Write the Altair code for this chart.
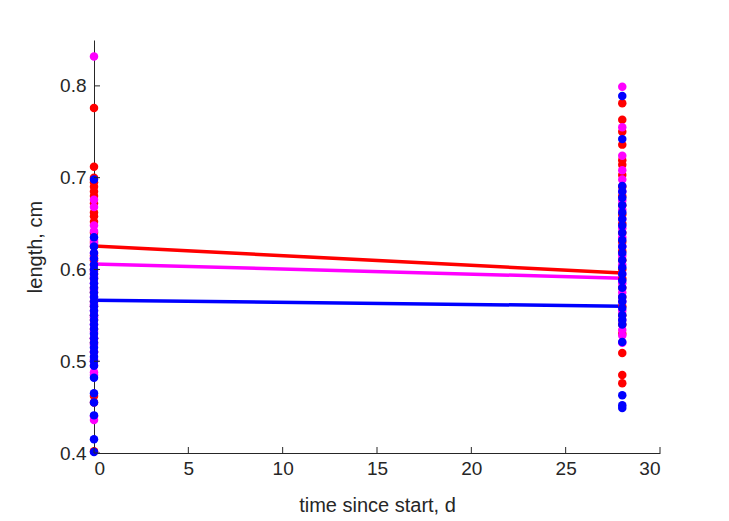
import altair as alt
import pandas as pd

# ---- data ----
red_t0 = [0.776, 0.712, 0.700, 0.695, 0.690, 0.685, 0.680, 0.672, 0.662, 0.658, 0.652, 0.640,
          0.630, 0.625, 0.615, 0.610, 0.600, 0.595, 0.590, 0.580, 0.575, 0.565, 0.560, 0.550,
          0.545, 0.535, 0.525, 0.520, 0.510, 0.500, 0.462, 0.455, 0.402]
mag_t0 = [0.832, 0.676, 0.668, 0.648, 0.642, 0.632, 0.628, 0.618, 0.612, 0.605, 0.598, 0.592,
          0.585, 0.578, 0.570, 0.562, 0.555, 0.548, 0.540, 0.532, 0.525, 0.518, 0.510, 0.502,
          0.495, 0.488, 0.485, 0.440, 0.436]
blu_t0 = [0.698, 0.635, 0.625, 0.618, 0.612, 0.605, 0.600, 0.595, 0.590, 0.585, 0.580, 0.575,
          0.570, 0.565, 0.560, 0.555, 0.550, 0.545, 0.540, 0.535, 0.530, 0.525, 0.520, 0.515,
          0.510, 0.505, 0.500, 0.495, 0.482, 0.465, 0.455, 0.441, 0.415, 0.401]
red_t28 = [0.781, 0.763, 0.750, 0.736, 0.719, 0.714, 0.703, 0.690, 0.680, 0.670, 0.660, 0.650,
           0.640, 0.630, 0.620, 0.610, 0.600, 0.590, 0.580, 0.570, 0.560, 0.550, 0.540, 0.530,
           0.509, 0.485, 0.476]
mag_t28 = [0.799, 0.755, 0.724, 0.708, 0.698, 0.685, 0.675, 0.665, 0.655, 0.645, 0.635, 0.625,
           0.615, 0.605, 0.595, 0.585, 0.575, 0.565, 0.555, 0.545, 0.534, 0.528, 0.520]
blu_t28 = [0.789, 0.742, 0.691, 0.685, 0.678, 0.670, 0.662, 0.655, 0.648, 0.640, 0.632, 0.625,
           0.618, 0.610, 0.602, 0.595, 0.588, 0.580, 0.570, 0.565, 0.558, 0.550, 0.545, 0.540,
           0.521, 0.463, 0.452, 0.449]

groups = ["red", "magenta", "blue"]
colors = ["#FF0000", "#FF00FF", "#0000FF"]
times = [0, 28]
line_start = [0.6256, 0.6060, 0.5665]
line_end = [0.5960, 0.5905, 0.5600]

x_ticks = [0, 5, 10, 15, 20, 25, 30]
y_ticks = [0.4, 0.5, 0.6, 0.7, 0.8]

# ---- tables ----
rows = []
for g, t0, t28 in zip(groups, [red_t0, mag_t0, blu_t0], [red_t28, mag_t28, blu_t28]):
    for v in t0:
        rows.append({"group": g, "t": times[0], "len": v})
    for v in t28:
        rows.append({"group": g, "t": times[1], "len": v})
pts = pd.DataFrame(rows)
pts["order"] = range(len(pts))

lrows = []
for g, a, b in zip(groups, line_start, line_end):
    lrows.append({"group": g, "t": times[0], "len": a})
    lrows.append({"group": g, "t": times[1], "len": b})
lines_df = pd.DataFrame(lrows)

FONT = "Liberation Sans"
INK = "#262626"
W, H = 566, 413

xs = alt.Scale(domain=[0, 30], nice=False, zero=False)
ys = alt.Scale(domain=[0.4, 0.85], nice=False, zero=False)
cs = alt.Scale(domain=groups, range=colors)

xaxis = alt.Axis(values=x_ticks, ticks=False, domainColor=INK, domainWidth=1,
                 labelColor=INK, labelFont=FONT, labelFontSize=19, labelPadding=6,
                 title="time since start, d", titleFont=FONT, titleFontSize=20,
                 titleFontWeight="normal", titleColor=INK, titlePadding=17, grid=False)
yaxis = alt.Axis(values=y_ticks, ticks=False, domainColor=INK, domainWidth=1,
                 labelColor=INK, labelFont=FONT, labelFontSize=19, labelPadding=8,
                 format=".1f",
                 title="length, cm", titleFont=FONT, titleFontSize=20,
                 titleFontWeight="normal", titleColor=INK, titlePadding=14, grid=False)

lines = alt.Chart(lines_df).mark_line(strokeWidth=3.5, clip=False).encode(
    x=alt.X("t:Q", scale=xs, axis=xaxis),
    y=alt.Y("len:Q", scale=ys, axis=yaxis),
    color=alt.Color("group:N", scale=cs, legend=None),
    detail="group:N",
)

points = alt.Chart(pts).mark_circle(size=72, opacity=1, clip=False).encode(
    x=alt.X("t:Q", scale=xs),
    y=alt.Y("len:Q", scale=ys),
    color=alt.Color("group:N", scale=cs, legend=None),
    order=alt.Order("order:Q"),
)

xt = alt.Chart(pd.DataFrame({"t": x_ticks})).mark_rule(color=INK, strokeWidth=1).encode(
    x=alt.X("t:Q", scale=xs), y=alt.value(H), y2=alt.value(H - 6))
yt = alt.Chart(pd.DataFrame({"len": y_ticks})).mark_rule(color=INK, strokeWidth=1).encode(
    y=alt.Y("len:Q", scale=ys), x=alt.value(0), x2=alt.value(6))

chart = alt.layer(lines, points, xt, yt).properties(
    width=W, height=H,
    autosize="none",
    background="white",
    padding={"left": 94, "top": 40, "right": 729 - 94 - W, "bottom": 521 - 40 - H},
).configure_view(strokeWidth=0, stroke="transparent")

chart.save("out.html", embed_options={"renderer": "svg", "actions": False})
